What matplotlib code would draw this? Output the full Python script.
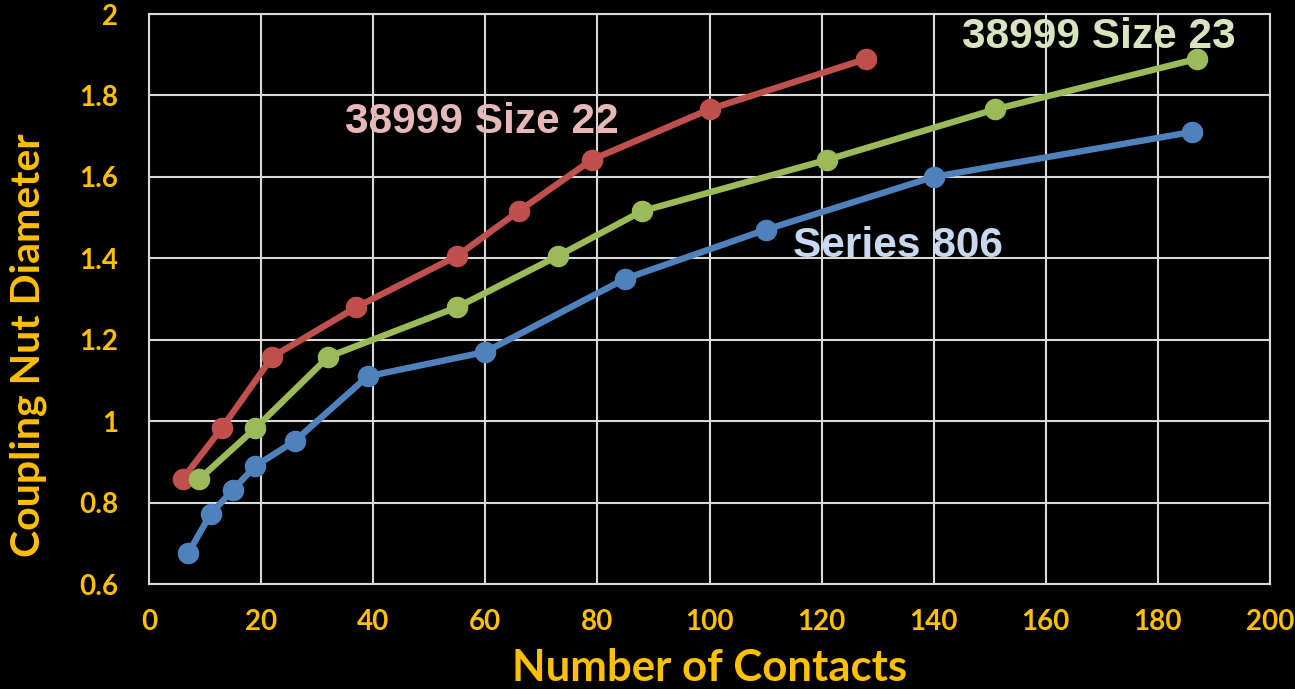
import matplotlib
matplotlib.use("Agg")
import matplotlib.pyplot as plt

# Data
size22_x = [6, 13, 22, 37, 55, 66, 79, 100, 128]
size22_y = [0.858, 0.983, 1.158, 1.280, 1.406, 1.516, 1.642, 1.766, 1.890]
size23_x = [9, 19, 32, 55, 73, 88, 121, 151, 187]
size23_y = [0.858, 0.983, 1.158, 1.280, 1.406, 1.516, 1.642, 1.766, 1.890]
s806_x = [7, 11, 15, 19, 26, 39, 60, 85, 110, 140, 186]
s806_y = [0.676, 0.772, 0.832, 0.890, 0.951, 1.110, 1.170, 1.350, 1.470, 1.600, 1.710]

x_ticks = [0, 20, 40, 60, 80, 100, 120, 140, 160, 180, 200]
x_tick_labels = ["0", "20", "40", "60", "80", "100", "120", "140", "160", "180", "200"]
y_ticks = [0.6, 0.8, 1.0, 1.2, 1.4, 1.6, 1.8, 2.0]
y_tick_labels = ["0.6", "0.8", "1", "1.2", "1.4", "1.6", "1.8", "2"]

RED, GREEN, BLUE = "#C0504D", "#9BBB59", "#4F81BD"
ORANGE = "#FFC000"
GRID = "#D9D9D9"

fig = plt.figure(figsize=(12.95, 6.89), dpi=100, facecolor="black")
ax = fig.add_axes([0.11506, 0.15239, 0.86564, 0.82729])
ax.set_facecolor("black")

lw, ms = 4.6, 14.5
ax.plot(size22_x, size22_y, color=RED, lw=lw, marker="o", ms=ms, zorder=3, clip_on=False)
ax.plot(size23_x, size23_y, color=GREEN, lw=lw, marker="o", ms=ms, zorder=4, clip_on=False)
ax.plot(s806_x, s806_y, color=BLUE, lw=lw, marker="o", ms=ms, zorder=5, clip_on=False)

ax.set_xlim(0, 200)
ax.set_ylim(0.6, 2.0)
tick_font = dict(fontfamily="Lato", fontweight="bold", fontsize=20, color=ORANGE)
ax.set_xticks(x_ticks)
ax.set_xticklabels(x_tick_labels, **tick_font)
ax.set_yticks(y_ticks)
ax.set_yticklabels(y_tick_labels, **tick_font)
ax.grid(True, color=GRID, lw=1.5)
ax.set_axisbelow(True)
for s in ax.spines.values():
    s.set_color(GRID)
    s.set_linewidth(1.5)
ax.tick_params(length=0)
ax.tick_params(axis="x", pad=18)
ax.tick_params(axis="y", pad=22)

fig.text(709.5 / 1295, 1 - 668 / 689, "Number of Contacts", color=ORANGE,
         fontfamily="Lato", fontweight="bold", fontsize=31.5, ha="center", va="center")
fig.text(28 / 1295, 1 - 345 / 689, "Coupling Nut Diameter", color=ORANGE,
         fontfamily="Lato", fontweight="bold", fontsize=29.5, ha="center", va="center",
         rotation=90)

tfont = dict(fontfamily="Liberation Sans", fontweight="bold", fontsize=30.5,
             ha="center", va="baseline")
ax.text(59.3, 1.708, "38999 Size 22", color="#E6B9B8", **tfont)
ax.text(169.4, 1.917, "38999 Size 23", color="#D7E4BD", **tfont)
ax.text(133.7, 1.403, "Series 806", color="#C6D9F1", **tfont)

fig.savefig("out.png", dpi=100, facecolor="black")
